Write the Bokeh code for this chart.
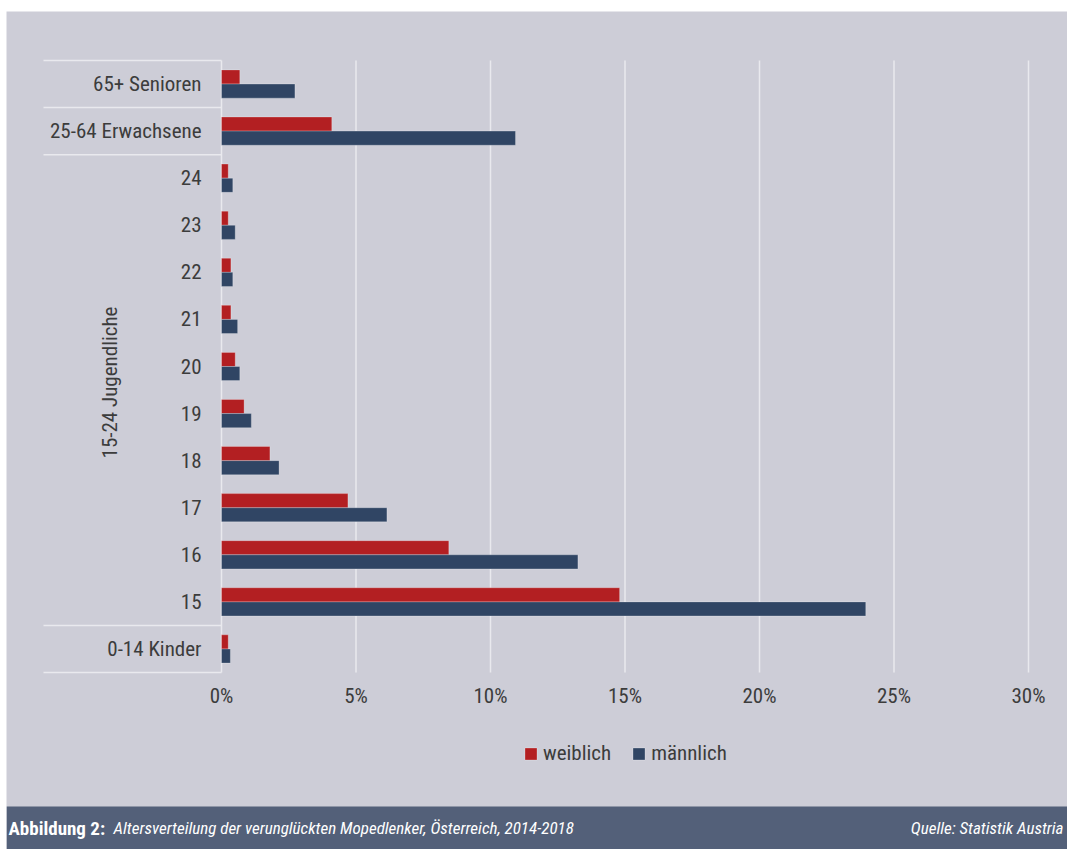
from bokeh.plotting import figure
from bokeh.models import (FixedTicker, Range1d, Legend, LegendItem, Label,
                          PrintfTickFormatter, ColumnDataSource)
from bokeh.embed import file_html
from bokeh.resources import INLINE

# ---- data (bottom to top) ----
categories = ["0-14 Kinder", "15", "16", "17", "18", "19", "20", "21", "22", "23", "24",
              "25-64 Erwachsene", "65+ Senioren"]
weiblich = [0.25, 14.8, 8.45, 4.7, 1.8, 0.84, 0.51, 0.35, 0.35, 0.25, 0.25, 4.1, 0.68]
maennlich = [0.33, 23.95, 13.25, 6.15, 2.14, 1.11, 0.68, 0.6, 0.42, 0.51, 0.42, 10.93, 2.73]
x_ticks = [0, 5, 10, 15, 20, 25, 30]
group_label = "15-24 Jugendliche"
group_members = ["15", "16", "17", "18", "19", "20", "21", "22", "23", "24"]

FONT = "Roboto Condensed, DejaVu Sans Condensed, Liberation Sans Narrow, Roboto"
TXT = "#3c3c3c"
BG = "#cdcdd7"
RED = "#b31f22"
BLUE = "#304564"
LINE = "#e9e9ee"
FOOT = "#536079"

# ---- layout geometry (page pixels) ----
W, H = 1061, 838            # figure size; placed at page (6, 11)
PX0, PY0 = 6, 11
ZERO_X, MAX_X = 221, 1028   # 0% and 30%
TOP_Y, BOT_Y = 60, 672      # plot area top / bottom
SEP_X = 43                  # left end of separator lines
FOOT_Y = 806
n = len(categories)
XS = (MAX_X - ZERO_X) / 30.0
YS = (BOT_Y - TOP_Y) / float(n)

x_start = -(ZERO_X - PX0) / XS
x_end = 30 + (PX0 + W - MAX_X) / XS
y_start = -0.5 - (PY0 + H - BOT_Y) / YS
y_end = n - 0.5 + (TOP_Y - PY0) / YS

pos = list(range(n))
src = ColumnDataSource(dict(
    yw=[p_ + 0.15 for p_ in pos],
    ym=[p_ - 0.15 for p_ in pos],
    w=weiblich, m=maennlich))

p = figure(width=W, height=H, output_backend="svg", toolbar_location=None,
           x_range=Range1d(x_start, x_end), y_range=Range1d(y_start, y_end),
           min_border=0)
p.margin = (PY0, 0, 0, PX0)
p.background_fill_color = BG
p.border_fill_color = BG
p.outline_line_color = None
p.grid.visible = False

# footer band
p.quad(left=x_start, right=x_end, bottom=y_start, top=-0.5 - (FOOT_Y - BOT_Y) / YS,
       fill_color=FOOT, line_color=None)

# grid lines (plot area only)
p.segment(x0=x_ticks, x1=x_ticks, y0=-0.5, y1=n - 0.5, line_color=LINE, line_width=1.5)

# separators of the category groups
gi = [categories.index(c) for c in group_members]
boundaries = [-0.5, min(gi) - 0.5, max(gi) + 0.5, max(gi) + 1.5, n - 0.5]
sep_x0 = -(ZERO_X - SEP_X) / XS
p.segment(x0=sep_x0, x1=0, y0=boundaries, y1=boundaries, line_color=LINE, line_width=1.5)

rw = p.hbar(y="yw", right="w", left=0, height=0.3, source=src, fill_color=RED,
            line_color="#ffffff", line_alpha=0.25, line_width=1)
rm = p.hbar(y="ym", right="m", left=0, height=0.3, source=src, fill_color=BLUE,
            line_color="#ffffff", line_alpha=0.25, line_width=1)

# x axis fixed at bottom of plot area
xa = p.xaxis[0]
xa.fixed_location = -0.5
xa.ticker = FixedTicker(ticks=x_ticks)
xa.formatter = PrintfTickFormatter(format="%d%%")
xa.axis_line_color = None
xa.major_tick_line_color = None
xa.minor_tick_line_color = None
xa.major_label_standoff = 5
xa.major_label_text_font = FONT
xa.major_label_text_font_size = "21px"
xa.major_label_text_color = TXT

# y axis fixed at 0%
ya = p.yaxis[0]
ya.fixed_location = 0
ya.ticker = FixedTicker(ticks=pos)
ya.major_label_overrides = {i: c for i, c in enumerate(categories)}
ya.axis_line_color = None
ya.major_tick_line_color = None
ya.minor_tick_line_color = None
ya.major_label_standoff = 14
ya.major_label_text_font = FONT
ya.major_label_text_font_size = "21px"
ya.major_label_text_color = TXT

# rotated group label
gc = (min(gi) + max(gi)) / 2.0
p.add_layout(Label(x=109 - PX0, x_units="screen", y=gc + 0.16, y_units="data",
                   text=group_label, angle=90, angle_units="deg",
                   text_align="center", text_baseline="middle",
                   text_font=FONT, text_font_size="21px", text_color=TXT))

legend = Legend(items=[LegendItem(label="weiblich", renderers=[rw]),
                       LegendItem(label="männlich", renderers=[rm])],
                orientation="horizontal", location=(523 - PX0, 84))
legend.glyph_width = 15
legend.glyph_height = 15
legend.label_text_font = FONT
legend.label_text_font_size = "21px"
legend.label_text_color = TXT
legend.label_standoff = 5
legend.spacing = 20
legend.padding = 0
legend.margin = 0
legend.border_line_color = None
legend.background_fill_alpha = 0
p.add_layout(legend, "center")

# footer texts
fy = (PY0 + H - FOOT_Y) / 2.0
p.add_layout(Label(x=2, y=fy, x_units="screen", y_units="screen", text="Abbildung 2:",
                   text_font=FONT, text_font_style="bold", text_font_size="19px",
                   text_color="white", text_baseline="middle"))
p.add_layout(Label(x=107, y=fy, x_units="screen", y_units="screen",
                   text="Altersverteilung der verunglückten Mopedlenker, Österreich, 2014-2018",
                   text_font=FONT, text_font_style="italic", text_font_size="17px",
                   text_color="white", text_baseline="middle"))
p.add_layout(Label(x=W - 4, y=fy, x_units="screen", y_units="screen",
                   text="Quelle: Statistik Austria", text_align="right",
                   text_font=FONT, text_font_style="italic", text_font_size="17px",
                   text_color="white", text_baseline="middle"))

open("out.html", "w").write(file_html(p, INLINE))
